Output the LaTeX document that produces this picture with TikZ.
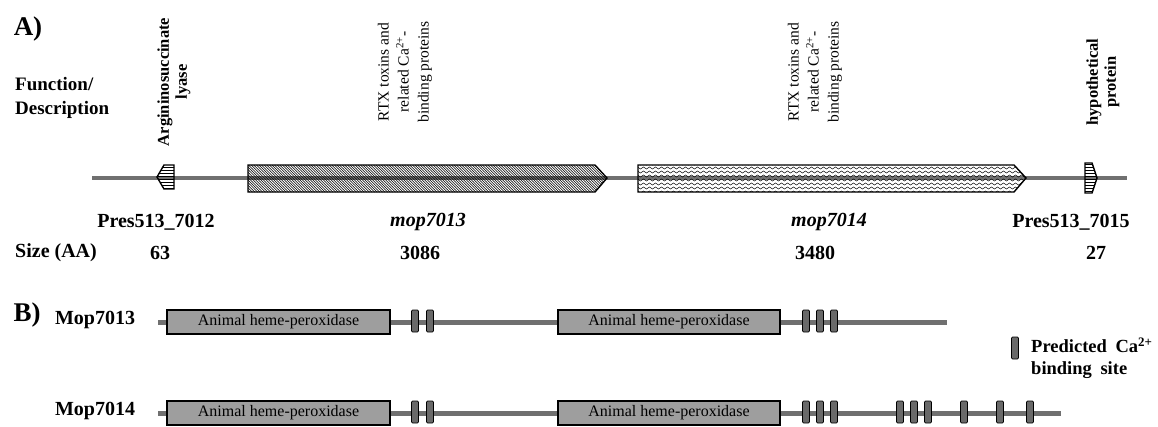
\documentclass[tikz,border=0pt]{standalone}
\usepackage{fontspec}
\setmainfont{Liberation Serif}
\usetikzlibrary{patterns,shadows}
\definecolor{bbgray}{RGB}{112,112,112}
\definecolor{boxgray}{RGB}{158,158,158}
\definecolor{sitegray}{RGB}{105,105,105}
\pgfdeclarepatternformonly{wavylines}{\pgfpoint{-1pt}{-1pt}}{\pgfpoint{7pt}{5pt}}{\pgfpoint{6pt}{4pt}}{%
  \pgfsetlinewidth{0.5pt}%
  \pgfpathmoveto{\pgfpoint{0pt}{2pt}}%
  \pgfpathsine{\pgfpoint{1.5pt}{1pt}}%
  \pgfpathcosine{\pgfpoint{1.5pt}{-1pt}}%
  \pgfpathsine{\pgfpoint{1.5pt}{-1pt}}%
  \pgfpathcosine{\pgfpoint{1.5pt}{1pt}}%
  \pgfusepath{stroke}%
}
\pgfdeclarepatternformonly{densenw}{\pgfpoint{-1pt}{-1pt}}{\pgfpoint{3.6pt}{3.6pt}}{\pgfpoint{2.6pt}{2.6pt}}{%
  \pgfsetlinewidth{0.55pt}%
  \pgfpathmoveto{\pgfpoint{-0.1pt}{2.7pt}}%
  \pgfpathlineto{\pgfpoint{2.7pt}{-0.1pt}}%
  \pgfusepath{stroke}%
}
\tikzset{
  backbone/.style={draw=bbgray, line width=4.5pt},
  genebox/.style={draw=black, line width=1.4pt},
  hlbl/.style={font=\fontsize{20}{22}\selectfont\bfseries, inner sep=0pt},
  ilbl/.style={font=\fontsize{20}{22}\selectfont\bfseries\itshape, inner sep=0pt},
  panel/.style={font=\fontsize{27}{28}\selectfont\bfseries, inner sep=0pt},
  vbold/.style={rotate=90, align=center, inner sep=0pt, font=\fontsize{16.5}{18}\selectfont\bfseries},
  vreg/.style={rotate=90, align=center, inner sep=0pt, font=\fontsize{15.5}{20}\selectfont},
  domainbox/.style={draw=black, line width=1.3pt, fill=boxgray, minimum height=24pt,
    inner sep=0pt, font=\fontsize{16}{16}\selectfont,
    general shadow={shadow xshift=1.2pt, shadow yshift=-1.2pt, fill=black!70}},
  site/.style={draw=black, line width=0.7pt, fill=sitegray, rounded corners=1.2pt,
    minimum width=7pt, minimum height=22pt, inner sep=0pt},
}
\begin{document}
\begin{tikzpicture}[x=1pt,y=-1pt]
\useasboundingbox[fill=white] (0,0) rectangle (1158,426);
% ---------- Panel A ----------
\node[panel] (pA) at (28,29) {A)};
\node[hlbl, anchor=west, align=left, font=\fontsize{19}{24}\selectfont\bfseries] (func) at (15,98) {Function/\\Description};

\coordinate (aS) at (92,178);
\coordinate (aE) at (1127,178);
\draw[backbone] (aS) -- (aE);

% gene arrows
\draw[genebox, pattern=horizontal lines] (174,165) -- (164,165) -- (157,177) -- (164,189) -- (174,189) -- cycle;
\draw[genebox, pattern=densenw] (248,165) -- (595,165) -- (607,178) -- (595,192) -- (248,192) -- cycle;
\draw[genebox, pattern=wavylines] (638,165) -- (1014,165) -- (1026,178) -- (1014,192) -- (638,192) -- cycle;
\draw[genebox, pattern=horizontal lines] (1085,163) -- (1092,163) -- (1097,178) -- (1092,193) -- (1085,193) -- cycle;

% function labels
\node[vbold] (f1) at (174,82) {Argininosuccinate\\lyase};
\node[vreg] (f2) at (405,72) {RTX toxins and\\related Ca\textsuperscript{2+}-\\binding proteins};
\node[vreg] (f3) at (815,72) {RTX toxins and\\related Ca\textsuperscript{2+}-\\binding proteins};
\node[vbold] (f4) at (1103,82) {hypothetical\\protein};

% names and sizes
\node[hlbl] (n1) at (156,222) {Pres513\_7012};
\node[ilbl] (n2) at (428,222) {mop7013};
\node[ilbl] (n3) at (829,222) {mop7014};
\node[hlbl] (n4) at (1071,222) {Pres513\_7015};
\node[hlbl, anchor=west] (size) at (15,253) {Size (AA)};
\node[hlbl] (s1) at (160,253) {63};
\node[hlbl] (s2) at (420,253) {3086};
\node[hlbl] (s3) at (815,253) {3480};
\node[hlbl] (s4) at (1096,253) {27};

% ---------- Panel B ----------
\node[panel] (pB) at (27,315) {B)};
\node[hlbl] (m1) at (95,320) {Mop7013};
\node[hlbl] (m2) at (95,411) {Mop7014};

\coordinate (b1S) at (158,322);
\coordinate (b1E) at (947,322);
\coordinate (b2S) at (158,413);
\coordinate (b2E) at (1061,413);
\draw[backbone, line width=5pt] (b1S) -- (b1E);
\draw[backbone, line width=5pt] (b2S) -- (b2E);

\node[domainbox, minimum width=223pt] (d11) at (278.5,322) {Animal heme-peroxidase};
\node[domainbox, minimum width=222pt] (d12) at (669,322) {Animal heme-peroxidase};
\node[domainbox, minimum width=223pt] (d21) at (278.5,413) {Animal heme-peroxidase};
\node[domainbox, minimum width=222pt] (d22) at (669,413) {Animal heme-peroxidase};

\foreach \x [count=\i] in {415,430,806,820,834}
  \node[site] (sa\i) at (\x,321) {};
\foreach \x [count=\i] in {415,430,806,820,834,900,914,928,964,1000,1030}
  \node[site] (sb\i) at (\x,412) {};

% legend
\node[site] (leg) at (1015,348) {};
\node[anchor=west, align=left, inner sep=0pt, font=\fontsize{18.5}{22}\selectfont\bfseries] (legt) at (1031,358)
  {Predicted\hspace{4pt} Ca\textsuperscript{2+}\\binding\hspace{4pt} site};
\end{tikzpicture}
\end{document}
